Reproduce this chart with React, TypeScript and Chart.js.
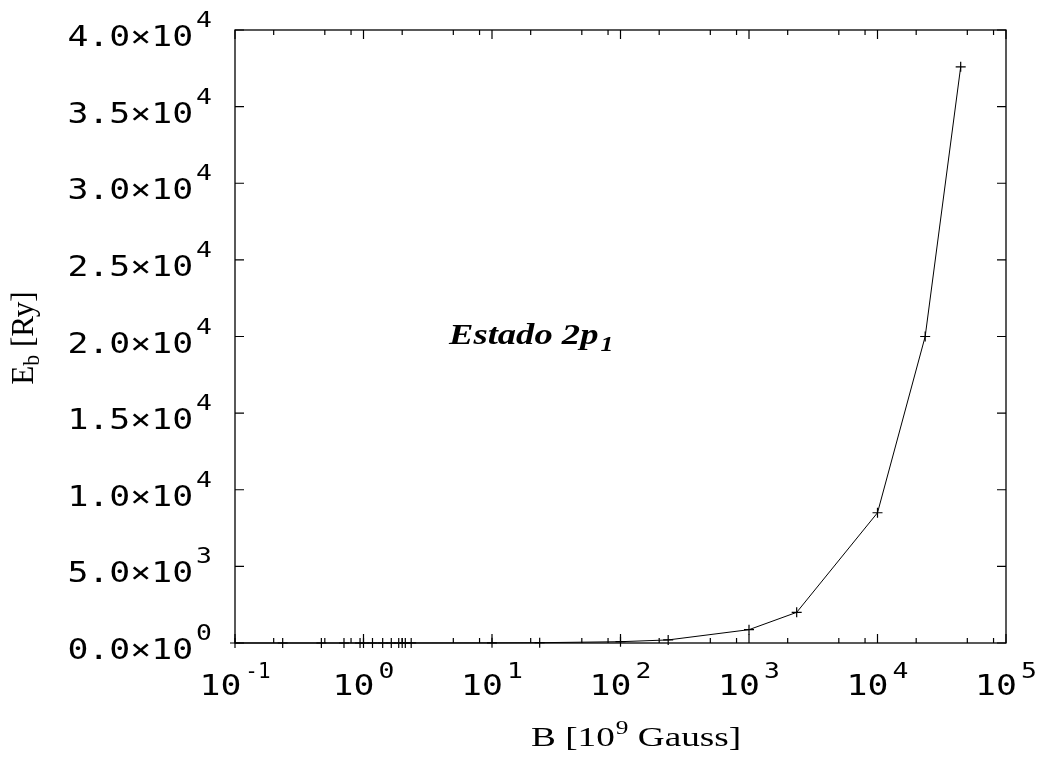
import React, { useEffect, useRef } from 'react';
import { Chart, registerables } from 'chart.js';

Chart.register(...registerables);

// Magnetic field B [10^9 Gauss]
const B_VALUES = [0.1, 0.235, 0.47, 0.705, 0.94, 1.0, 1.175, 1.41, 1.645, 1.88, 2.0, 2.115, 2.35, 10, 23.5, 100, 235, 1000, 2350, 10000, 23500, 44400];
// Binding energy E_b [Ry]
const EB_VALUES = [0.09, 0.2, 0.4, 0.6, 0.8, 0.85, 1.0, 1.2, 1.4, 1.6, 1.7, 1.8, 2.0, 8.5, 20, 85, 200, 870, 2000, 8500, 20000, 37600];

const X_MAJOR_TICKS = [0.1, 1, 10, 100, 1000, 10000, 100000];
const X_TICK_EXPONENTS = ['-1', '0', '1', '2', '3', '4', '5'];
const X_MINOR_MULTIPLIERS = [2, 5, 8];

const Y_TICKS = [0, 5000, 10000, 15000, 20000, 25000, 30000, 35000, 40000];
const Y_TICK_MANTISSAS = ['0.0', '5.0', '1.0', '1.5', '2.0', '2.5', '3.0', '3.5', '4.0'];
const Y_TICK_EXPONENTS = ['0', '3', '4', '4', '4', '4', '4', '4', '4'];

const X_TITLE = ['B [10', '9', ' Gauss]'];
const Y_TITLE = ['E', 'b', ' [Ry]'];
const ANNOTATION = ['Estado 2p', '1'];

function drawText(
  ctx: CanvasRenderingContext2D,
  s: string,
  x: number,
  y: number,
  font: string,
  sx: number,
  align: 'left' | 'right' | 'center'
): number {
  ctx.save();
  ctx.font = font;
  const w = ctx.measureText(s).width * sx;
  const left = align === 'left' ? x : align === 'right' ? x - w : x - w / 2;
  ctx.translate(left, y);
  ctx.scale(sx, 1);
  ctx.textAlign = 'left';
  ctx.textBaseline = 'alphabetic';
  ctx.fillStyle = '#000';
  ctx.fillText(s, 0, 0);
  ctx.restore();
  return w;
}

function measure(ctx: CanvasRenderingContext2D, s: string, font: string, sx: number) {
  ctx.save();
  ctx.font = font;
  const w = ctx.measureText(s).width * sx;
  ctx.restore();
  return w;
}

const MONO = '"DejaVu Sans Mono", monospace';
const SERIF = '"Liberation Serif", "Times New Roman", serif';

const framePlugin = {
  id: 'gnuplotFrame',
  beforeDatasetsDraw(chart: any) {
    const { ctx, chartArea } = chart;
    const xs = chart.scales.x;
    const ys = chart.scales.y;
    const { left, right, top, bottom } = chartArea;
    ctx.save();
    ctx.strokeStyle = '#000';
    ctx.lineWidth = 1.3;
    ctx.strokeRect(left, top, right - left, bottom - top);
    ctx.lineWidth = 1.2;
    const major = 9;
    const minor = 5;
    ctx.beginPath();
    X_MAJOR_TICKS.forEach((v) => {
      const px = xs.getPixelForValue(v);
      ctx.moveTo(px, bottom);
      ctx.lineTo(px, bottom - major);
      ctx.moveTo(px, top);
      ctx.lineTo(px, top + major);
    });
    X_MAJOR_TICKS.slice(0, -1).forEach((v) => {
      X_MINOR_MULTIPLIERS.forEach((m) => {
        const px = xs.getPixelForValue(v * m);
        ctx.moveTo(px, bottom);
        ctx.lineTo(px, bottom - minor);
        ctx.moveTo(px, top);
        ctx.lineTo(px, top + minor);
      });
    });
    Y_TICKS.forEach((v) => {
      const py = ys.getPixelForValue(v);
      ctx.moveTo(left, py);
      ctx.lineTo(left + major, py);
      ctx.moveTo(right, py);
      ctx.lineTo(right - major, py);
    });
    ctx.stroke();
    ctx.restore();
  },
  afterDraw(chart: any) {
    const { ctx } = chart;
    const xs = chart.scales.x;
    const ys = chart.scales.y;
    const sxMono = 1.2;
    const mainFont = `29px ${MONO}`;
    const supFont = `22px ${MONO}`;

    // y tick labels
    Y_TICKS.forEach((v, i) => {
      const py = ys.getPixelForValue(v);
      const main = Y_TICK_MANTISSAS[i] + '×10';
      const sup = Y_TICK_EXPONENTS[i];
      const wSup = measure(ctx, sup, supFont, sxMono);
      const supLeft = 212 - wSup;
      drawText(ctx, sup, supLeft, py - 3, supFont, sxMono, 'left');
      drawText(ctx, main, supLeft - 3, py + 16, mainFont, sxMono, 'right');
    });

    // x tick labels
    X_MAJOR_TICKS.forEach((v, i) => {
      const px = xs.getPixelForValue(v);
      const sup = X_TICK_EXPONENTS[i];
      const wMain = measure(ctx, '10', mainFont, sxMono);
      const supSx = sup.length > 1 ? 0.95 : sxMono;
      const wSup = measure(ctx, sup, supFont, supSx);
      const gap = 4;
      const start = px - (wMain + gap + wSup) / 2;
      drawText(ctx, '10', start, 695, mainFont, sxMono, 'left');
      drawText(ctx, sup, start + wMain + gap, 678, supFont, supSx, 'left');
    });

    // x axis title
    const sxSerif = 1.33;
    const tFont = `28px ${SERIF}`;
    const tSupFont = `19px ${SERIF}`;
    let x = 531;
    x += drawText(ctx, X_TITLE[0], x, 746, tFont, sxSerif, 'left');
    x += 1;
    x += drawText(ctx, X_TITLE[1], x, 734, tSupFont, sxSerif, 'left');
    drawText(ctx, X_TITLE[2], x, 746, tFont, sxSerif, 'left');

    // y axis title (rotated)
    ctx.save();
    const yFont = `27px ${SERIF}`;
    const ySubFont = `19px ${SERIF}`;
    const lenScale = 1.15;
    const w0 = measure(ctx, Y_TITLE[0], yFont, 1);
    const w1 = measure(ctx, Y_TITLE[1], ySubFont, 1);
    const w2 = measure(ctx, Y_TITLE[2], yFont, 1);
    const total = w0 + w1 + w2;
    ctx.translate(33, 338);
    ctx.rotate(-Math.PI / 2);
    ctx.scale(lenScale, 1.2);
    let lx = -total / 2;
    lx += drawText(ctx, Y_TITLE[0], lx, 0, yFont, 1, 'left');
    lx += drawText(ctx, Y_TITLE[1], lx, 5, ySubFont, 1, 'left');
    drawText(ctx, Y_TITLE[2], lx, 0, yFont, 1, 'left');
    ctx.restore();

    // annotation
    const aFont = `italic bold 30px ${SERIF}`;
    const aSubFont = `italic bold 21px ${SERIF}`;
    let ax = 449;
    ax += drawText(ctx, ANNOTATION[0], ax, 344, aFont, 1.22, 'left');
    drawText(ctx, ANNOTATION[1], ax + 2, 351, aSubFont, 1.22, 'left');
  },
};

export default function App() {
  const ref = useRef<HTMLCanvasElement>(null);
  useEffect(() => {
    const canvas = ref.current;
    if (!canvas) return;
    const data = B_VALUES.map((b, i) => ({ x: b, y: EB_VALUES[i] }));
    const chart = new Chart(canvas, {
      type: 'line',
      data: {
        datasets: [
          {
            data,
            borderColor: '#000',
            borderWidth: 1,
            pointStyle: 'cross',
            pointRadius: 5,
            pointBorderWidth: 1.2,
            pointBorderColor: '#000',
            pointBackgroundColor: '#000',
            tension: 0,
            clip: false as any,
          },
        ],
      },
      options: {
        animation: false,
        responsive: false,
        devicePixelRatio: 1,
        layout: { padding: { left: 235, right: 34, top: 30, bottom: 114 } },
        plugins: { legend: { display: false }, tooltip: { enabled: false } },
        scales: {
          x: { type: 'logarithmic', min: 0.1, max: 100000, display: false },
          y: { type: 'linear', min: 0, max: 40000, display: false },
        },
      },
      plugins: [framePlugin],
    });
    return () => chart.destroy();
  }, []);
  return (
    <div style={{ position: 'absolute', left: 0, top: 0, width: 1040, height: 757, background: '#fff' }}>
      <canvas ref={ref} width={1040} height={757} style={{ width: 1040, height: 757, display: 'block' }} />
    </div>
  );
}
